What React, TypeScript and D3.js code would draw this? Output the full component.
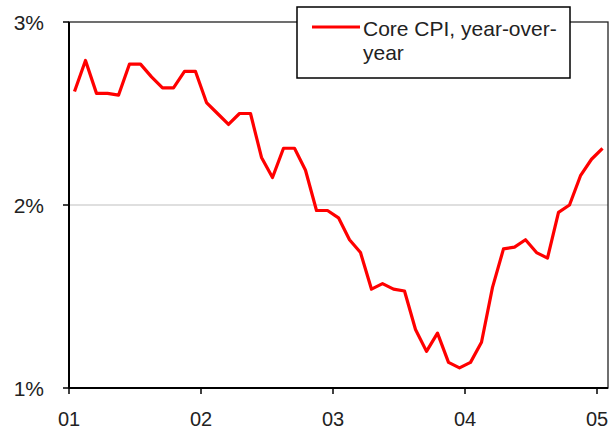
import React from 'react';
import * as d3 from 'd3';

// monthly core CPI, year-over-year (%), Jan 2001 .. Jan 2005
const coreCpi: number[] = [
  2.62, 2.79, 2.61, 2.61, 2.60, 2.77, 2.77, 2.70, 2.64, 2.64, 2.73, 2.73,
  2.56, 2.50, 2.44, 2.50, 2.50, 2.26, 2.15, 2.31, 2.31, 2.19, 1.97, 1.97,
  1.93, 1.81, 1.74, 1.54, 1.57, 1.54, 1.53, 1.32, 1.20, 1.30, 1.14, 1.11,
  1.14, 1.25, 1.55, 1.76, 1.77, 1.81, 1.74, 1.71, 1.96, 2.00, 2.16, 2.25,
  2.31,
];

const yearTicks: number[] = [0, 12, 24, 36, 48];
const yearLabels: string[] = ['01', '02', '03', '04', '05'];
const pctTicks: number[] = [1, 2, 3];
const legendLines: string[] = ['Core CPI, year-over-', 'year'];

const W = 614;
const H = 430;
const margin = { top: 22, right: 6, bottom: 42, left: 69 };
const FONT = '"Liberation Sans", Arial, sans-serif';

export default function App() {
  const x = d3.scaleLinear()
    .domain([0, coreCpi.length])
    .range([margin.left, W - margin.right]);
  const y = d3.scaleLinear()
    .domain([1, 3])
    .range([H - margin.bottom, margin.top]);

  const line = d3.line<number>()
    .x((_, i) => x(i + 0.5))
    .y(d => y(d));

  const x0 = margin.left;
  const x1 = W - margin.right;
  const y0 = H - margin.bottom;
  const y1 = margin.top;

  return (
    <svg
      width={W}
      height={H}
      style={{ position: 'absolute', left: 0, top: 0, background: '#fff' }}
      fontFamily={FONT}
    >
      {/* 2% gridline */}
      <line x1={x0} x2={x1} y1={y(2)} y2={y(2)} stroke="#c0c0c0" strokeWidth={1.2} />

      {/* plot frame */}
      <rect x={x0} y={y1} width={x1 - x0} height={y0 - y1} fill="none" stroke="#222" strokeWidth={1.3} />
      <line x1={x0} x2={x0} y1={y1} y2={y0} stroke="#000" strokeWidth={2} />
      <line x1={x0} x2={x1} y1={y0} y2={y0} stroke="#000" strokeWidth={2} />

      {/* y axis ticks and labels */}
      {pctTicks.map(t => (
        <g key={t}>
          <line x1={x0 - 6} x2={x0} y1={y(t)} y2={y(t)} stroke="#000" strokeWidth={1.5} />
          <text x={44} y={y(t) + 7.5} textAnchor="end" fontSize={21} fill="#222">{t}%</text>
        </g>
      ))}

      {/* x axis ticks and labels */}
      {yearTicks.map((t, i) => (
        <g key={t}>
          <line x1={x(t)} x2={x(t)} y1={y0} y2={y0 + 6} stroke="#000" strokeWidth={1.5} />
          <text x={x(t)} y={425.5} textAnchor="middle" fontSize={20} fill="#222">{yearLabels[i]}</text>
        </g>
      ))}

      <path d={line(coreCpi) || ''} fill="none" stroke="#ff0000" strokeWidth={3.2} strokeLinejoin="round" />

      {/* legend */}
      <rect x={297} y={7} width={273} height={71} fill="#fff" stroke="#000" strokeWidth={1.5} />
      <line x1={312} x2={360} y1={27} y2={27} stroke="#ff0000" strokeWidth={3} />
      {legendLines.map((s, i) => (
        <text key={s} x={363} y={36 + i * 24} fontSize={21} fill="#222">{s}</text>
      ))}
    </svg>
  );
}
